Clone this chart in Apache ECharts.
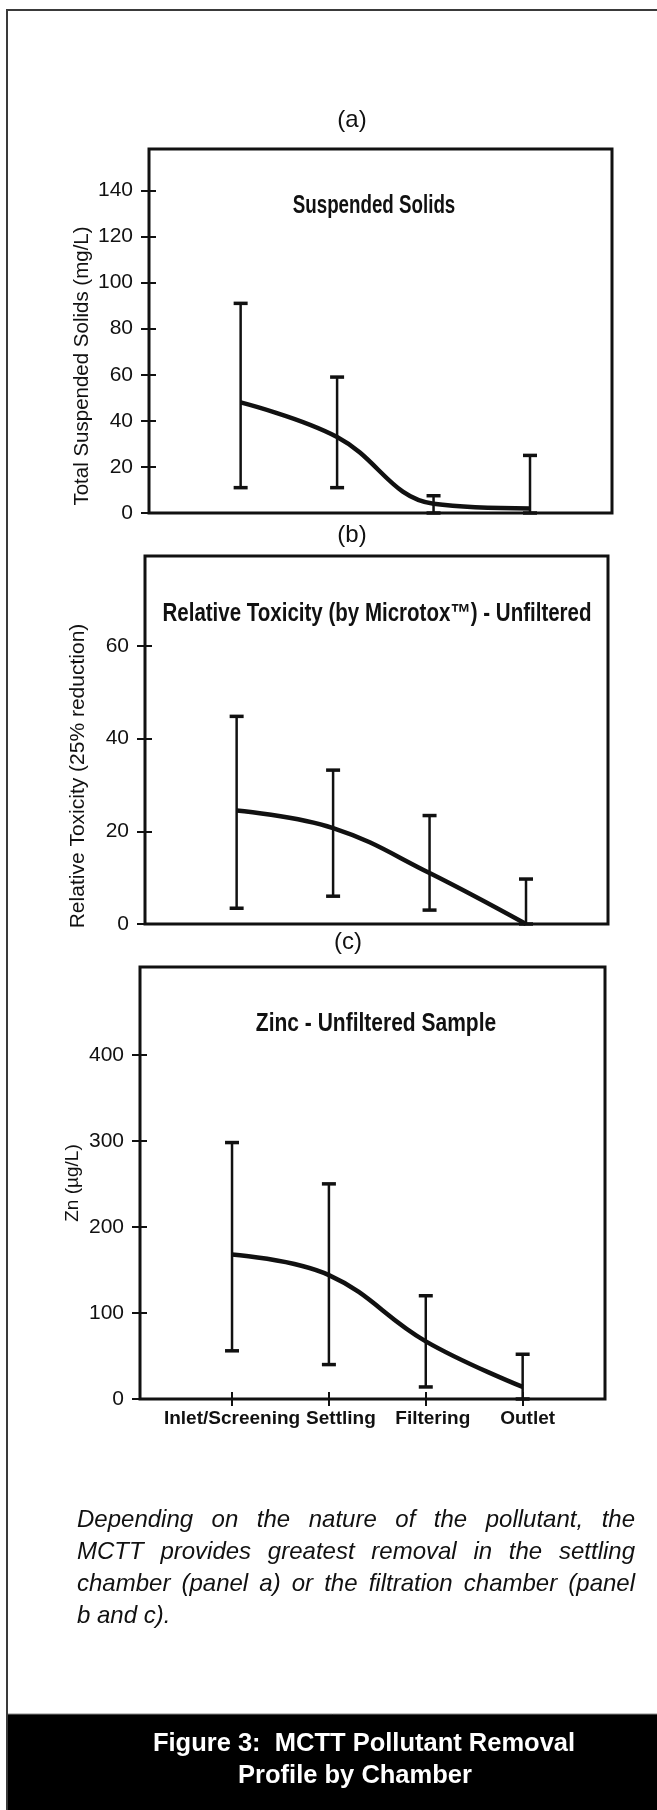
<!DOCTYPE html>
<html>
<head>
<meta charset="utf-8">
<script src="https://cdn.jsdelivr.net/npm/echarts@6/dist/echarts.min.js"></script>
<style>
html,body{margin:0;padding:0;background:#fff}
#chart{width:657px;height:1810px}
</style>
</head>
<body>
<div id="chart"></div>
<script>
// 腔室（x轴类目）
const chambers = ['Inlet/Screening', 'Settling', 'Filtering', 'Outlet'];

// (a) 悬浮固体 mg/L
const tssMean = [48, 33, 4, 2];
const tssLow = [11, 11, 0, 0];
const tssHigh = [91, 59, 7.5, 25];
const tssTicks = [0, 20, 40, 60, 80, 100, 120, 140];

// (b) 相对毒性
const toxMean = [24.5, 20.7, 11, 0];
const toxLow = [3.4, 6, 3, 0];
const toxHigh = [44.8, 33.2, 23.4, 9.7];
const toxTicks = [0, 20, 40, 60];

// (c) 锌 µg/L
const znMean = [168, 144, 67, 14];
const znLow = [56, 40, 14, 0];
const znHigh = [298, 250, 120, 52];
const znTicks = [0, 100, 200, 300, 400];

const caption = [
    'Depending on the nature of the pollutant, the',
    'MCTT provides greatest removal in the settling',
    'chamber (panel a) or the filtration chamber (panel',
    'b and c).'
];

const INK = '#111';
const SANS = '"Liberation Sans", Arial, sans-serif';

const chart = echarts.init(document.getElementById('chart'), null, {renderer: 'canvas'});

const toPoints = arr => arr.map((v, i) => [i + 1, v]);
const toBars = (lo, hi) => lo.map((v, i) => [i + 1, v, hi[i]]);

// 误差棒
function errorBar(params, api) {
    const x = api.value(0);
    const lo = api.coord([x, api.value(1)]);
    const hi = api.coord([x, api.value(2)]);
    const half = 7;
    return {
        type: 'group',
        children: [
            {type: 'line', shape: {x1: lo[0], y1: lo[1], x2: hi[0], y2: hi[1]}, style: {stroke: INK, lineWidth: 2.5}},
            {type: 'line', shape: {x1: hi[0] - half, y1: hi[1], x2: hi[0] + half, y2: hi[1]}, style: {stroke: INK, lineWidth: 3.5}},
            {type: 'line', shape: {x1: lo[0] - half, y1: lo[1], x2: lo[0] + half, y2: lo[1]}, style: {stroke: INK, lineWidth: 3.5}}
        ]
    };
}

const grids = [
    {left: 149, top: 149, width: 463, height: 364},
    {left: 145, top: 556, width: 463, height: 368},
    {left: 140, top: 967, width: 465, height: 432}
].map(g => Object.assign(g, {show: true, borderColor: INK, borderWidth: 3, backgroundColor: 'transparent'}));

const yMax = [158, 79.4, 502];
const yTicks = [tssTicks, toxTicks, znTicks];

// x轴标签略微错开（原图如此）
const labelRich = {};
[0, 24, 14, 10].forEach((pad, k) => {
    labelRich['c' + (k + 1)] = {
        fontFamily: SANS, fontWeight: 'bold', fontSize: 19, color: INK, padding: [0, 0, 0, pad]
    };
});

const xAxes = [];
const yAxes = [];
for (let i = 0; i < 3; i++) {
    xAxes.push({
        type: 'value', gridIndex: i, position: 'bottom', min: 0.05, max: 4.85,
        axisLine: {show: false}, splitLine: {show: false},
        axisTick: {show: i === 2, length: 7, customValues: [1, 2, 3, 4], lineStyle: {color: INK, width: 2}},
        axisLabel: {
            show: i === 2, customValues: [1, 2, 3, 4], margin: 10,
            showMinLabel: true, showMaxLabel: true, hideOverlap: false,
            formatter: v => '{c' + v + '|' + (chambers[v - 1] || '') + '}',
            rich: labelRich
        }
    });
    yAxes.push({
        type: 'value', gridIndex: i, position: 'left', min: 0, max: yMax[i],
        axisLine: {show: false}, splitLine: {show: false},
        axisTick: {show: true, length: 8, customValues: yTicks[i], lineStyle: {color: INK, width: 2}},
        axisLabel: {customValues: yTicks[i], margin: 16, fontFamily: SANS, fontSize: 21, color: INK}
    });
    // 刻度穿过轴线：再加一条内侧刻度
    yAxes.push({
        type: 'value', gridIndex: i, position: 'left', min: 0, max: yMax[i],
        axisLine: {show: false}, splitLine: {show: false}, axisLabel: {show: false},
        axisTick: {show: true, inside: true, length: 7, customValues: yTicks[i], lineStyle: {color: INK, width: 2}}
    });
}
xAxes.push({
    type: 'value', gridIndex: 2, position: 'bottom', min: 0.05, max: 4.85,
    axisLine: {show: false}, splitLine: {show: false}, axisLabel: {show: false},
    axisTick: {show: true, inside: true, length: 7, customValues: [1, 2, 3, 4], lineStyle: {color: INK, width: 2}}
});

const panels = [[tssMean, tssLow, tssHigh], [toxMean, toxLow, toxHigh], [znMean, znLow, znHigh]];
const series = [];
panels.forEach((p, i) => {
    series.push({
        type: 'custom', xAxisIndex: i, yAxisIndex: i * 2,
        renderItem: errorBar, data: toBars(p[1], p[2]), clip: false, z: 3
    });
    series.push({
        type: 'line', xAxisIndex: i, yAxisIndex: i * 2, data: toPoints(p[0]),
        smooth: 0.4, symbol: 'none', lineStyle: {color: INK, width: 4.5}, z: 4
    });
});

// 说明文字两端对齐
const ctx = document.createElement('canvas').getContext('2d');
const capFont = 'italic 24px ' + SANS;
function justified(text, y, justify) {
    ctx.font = capFont;
    const words = text.split(' ');
    const widths = words.map(w => ctx.measureText(w).width);
    const total = widths.reduce((a, b) => a + b, 0);
    const left = 77, right = 635;
    const gap = justify ? (right - left - total) / (words.length - 1) : ctx.measureText(' ').width;
    let x = left;
    return words.map((w, k) => {
        const el = {type: 'text', x: x, y: y, style: {text: w, font: capFont, fill: INK, verticalAlign: 'middle'}};
        x += widths[k] + gap;
        return el;
    });
}

const centered = (text, x, y, font, fill, sx) => ({
    type: 'text', x: x, y: y, scaleX: sx || 1,
    style: {text: text, font: font, fill: fill || INK, align: 'center', verticalAlign: 'middle'}
});
const vertical = (text, x, y, font) => ({
    type: 'text', x: x, y: y, rotation: Math.PI / 2,
    style: {text: text, font: font, fill: INK, align: 'center', verticalAlign: 'middle'}
});

const titleFont = 'bold 25px ' + SANS;
const graphic = [
    {type: 'line', shape: {x1: 6, y1: 10, x2: 657, y2: 10}, style: {stroke: '#3a3a3a', lineWidth: 2}},
    {type: 'rect', shape: {x: 8, y: 1714, width: 649, height: 96}, style: {fill: '#000'}},
    {type: 'line', shape: {x1: 8, y1: 1714, x2: 657, y2: 1714}, style: {stroke: '#888', lineWidth: 1}},
    {type: 'line', shape: {x1: 7, y1: 10, x2: 7, y2: 1810}, style: {stroke: '#3a3a3a', lineWidth: 2}},

    centered('(a)', 352, 120, '24px ' + SANS),
    centered('(b)', 352, 535, '24px ' + SANS),
    centered('(c)', 348, 942, '24px ' + SANS),

    centered('Suspended Solids', 374, 206, titleFont, INK, 0.75),
    centered('Relative Toxicity (by Microtox\u2122) - Unfiltered', 377, 614, titleFont, INK, 0.82),
    centered('Zinc - Unfiltered Sample', 376, 1024, titleFont, INK, 0.84),

    vertical('Total Suspended Solids (mg/L)', 82, 366, '20.5px ' + SANS),
    vertical('Relative Toxicity (25% reduction)', 78, 776, '21px ' + SANS),
    vertical('Zn (\u00b5g/L)', 73, 1183, '19px ' + SANS),

    centered('Figure 3:  MCTT Pollutant Removal', 364, 1744, 'bold 25.5px ' + SANS, '#fff'),
    centered('Profile by Chamber', 355, 1776, 'bold 25.5px ' + SANS, '#fff')
];
caption.forEach((line, k) => {
    graphic.push(...justified(line, 1520 + k * 32, k < 3));
});

chart.setOption({
    animation: false,
    backgroundColor: '#fff',
    grid: grids,
    xAxis: xAxes,
    yAxis: yAxes,
    series: series,
    graphic: graphic
});
</script>
</body>
</html>
